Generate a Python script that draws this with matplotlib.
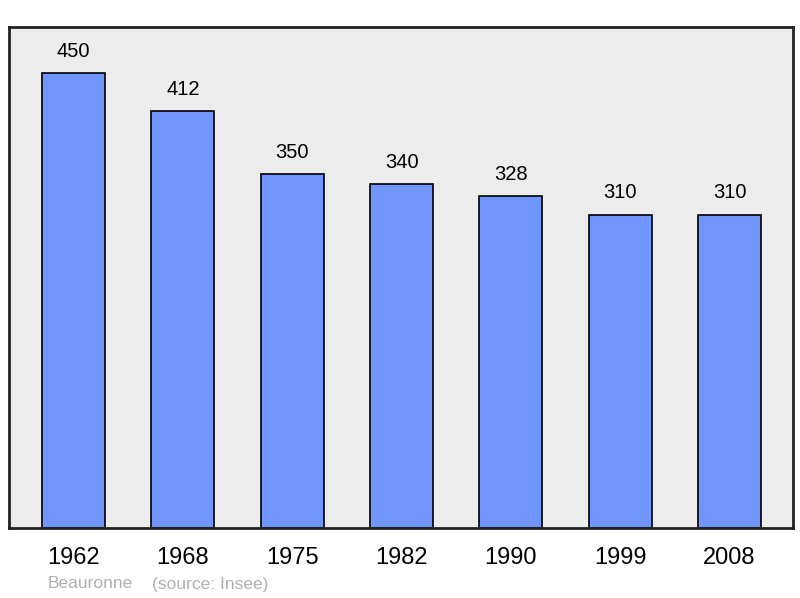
import matplotlib.pyplot as plt

years = ["1962", "1968", "1975", "1982", "1990", "1999", "2008"]
population = [450, 412, 350, 340, 328, 310, 310]

plt.rcParams['font.family'] = ['Liberation Sans', 'DejaVu Sans']

fig = plt.figure(figsize=(8, 5.98), dpi=100)
ax = fig.add_axes([9 / 800, 1 - 528 / 598, 784 / 800, 501 / 598])
ax.set_facecolor('#ececec')

x = list(range(len(years)))
ax.bar(x, population, width=0.576, color='#7095ff', edgecolor='black', linewidth=1.2)

for xi, v in zip(x, population):
	ax.text(xi, v + 12, str(v), ha='center', va='bottom', fontsize=14.5, color='black')

ax.set_xlim(-0.59, 6.58)
ax.set_ylim(0, 495.5)
ax.set_yticks([])
ax.set_xticks(x)
ax.set_xticklabels(years, fontsize=17)
ax.tick_params(axis='x', length=0, pad=14)
for spine in ax.spines.values():
	spine.set_linewidth(2)
	spine.set_color('#222222')

fig.text(48 / 800, 1 - 584 / 598, "Beauronne", fontsize=12.5, color='#b0b0b0', va='center', ha='left')
fig.text(152 / 800, 1 - 584 / 598, "(source: Insee)", fontsize=12.5, color='#b0b0b0', va='center', ha='left')

fig.savefig("out.png", dpi=100)
